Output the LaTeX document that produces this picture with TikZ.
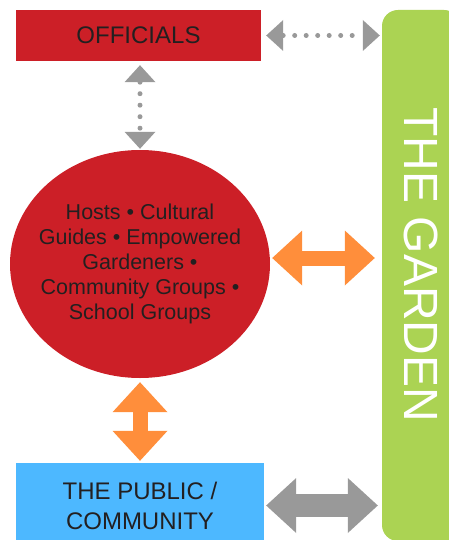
\documentclass[tikz,border=0pt]{standalone}
\usepackage{fontspec}
\setmainfont{Liberation Sans}
\usetikzlibrary{
    arrows.meta,
    shapes.geometric
}
\definecolor{offred}{RGB}{204,31,39}
\definecolor{gardengreen}{RGB}{171,211,83}
\definecolor{pubblue}{RGB}{77,184,255}
\definecolor{arrorange}{RGB}{255,142,59}
\definecolor{arrgray}{RGB}{153,153,153}
\definecolor{txtdark}{RGB}{35,31,32}
\tikzset{
  dotarr/.style = {arrgray, line width=5pt, line cap=round,
                   dash pattern=on 0pt off 11.5pt,
                   >={Triangle[length=17pt,width=31pt,line width=0pt]}, <->},
  bigarr/.style = {line width=#1,
                   >={Triangle[length=30pt,width=55pt,line width=0pt]}, <->}
}

\begin{document}
\begin{tikzpicture}[x=1pt, y=-1pt,
    box/.style={fill=#1, inner sep=0pt, align=center, text=txtdark,
                font=\fontsize{24}{30}\selectfont},
    circ/.style={ellipse, fill=offred, minimum width=260pt, minimum height=228pt,
                 inner xsep=-15pt, inner ysep=0pt, align=center, text=txtdark,
                 font=\fontsize{21.5}{24.8}\selectfont},
    bar/.style={fill=gardengreen, rounded corners=16pt, inner sep=0pt,
                minimum width=78pt, minimum height=531pt}
  ]
    \useasboundingbox (0,0) rectangle (449,540);
    \clip (0,0) rectangle (449,540);

    \node[bar] (garden) at (421,275.5) {};
    \node[rotate=-90, text=white, font=\fontsize{48}{48}\selectfont]
         (gardentxt) at (421,265) {THE GARDEN};

    \node[box=offred, minimum width=245pt, minimum height=51pt]
         (officials) at (138.5,35.5) {OFFICIALS};
    \node[circ] (circ) at (140,264)
         {Hosts • Cultural\\Guides • Empowered\\Gardeners •\\Community Groups •\\School Groups};
    \node[box=pubblue, minimum width=248pt, minimum height=85pt]
         (public) at (140,505.5) {THE PUBLIC /\\COMMUNITY};

    \coordinate (mid) at ([yshift=6pt]circ.east);

    \draw[dotarr, shorten <=5pt, shorten >=2pt]
         (officials.east) -- (officials.east -| garden.west);
    \draw[dotarr, shorten <=4pt, shorten >=1pt]
         (circ.north |- officials.south) -- (circ.north);
    \draw[bigarr=15pt, arrorange, shorten <=2pt, shorten >=7pt]
         (mid) -- (mid -| garden.west);
    \draw[bigarr=15pt, arrorange, shorten <=4pt, shorten >=2pt]
         (circ.south) -- (circ.south |- public.north);
    \draw[bigarr=23pt, arrgray, shorten <=2pt, shorten >=4pt]
         (public.east) -- (public.east -| garden.west);
  \end{tikzpicture}
\end{document}
